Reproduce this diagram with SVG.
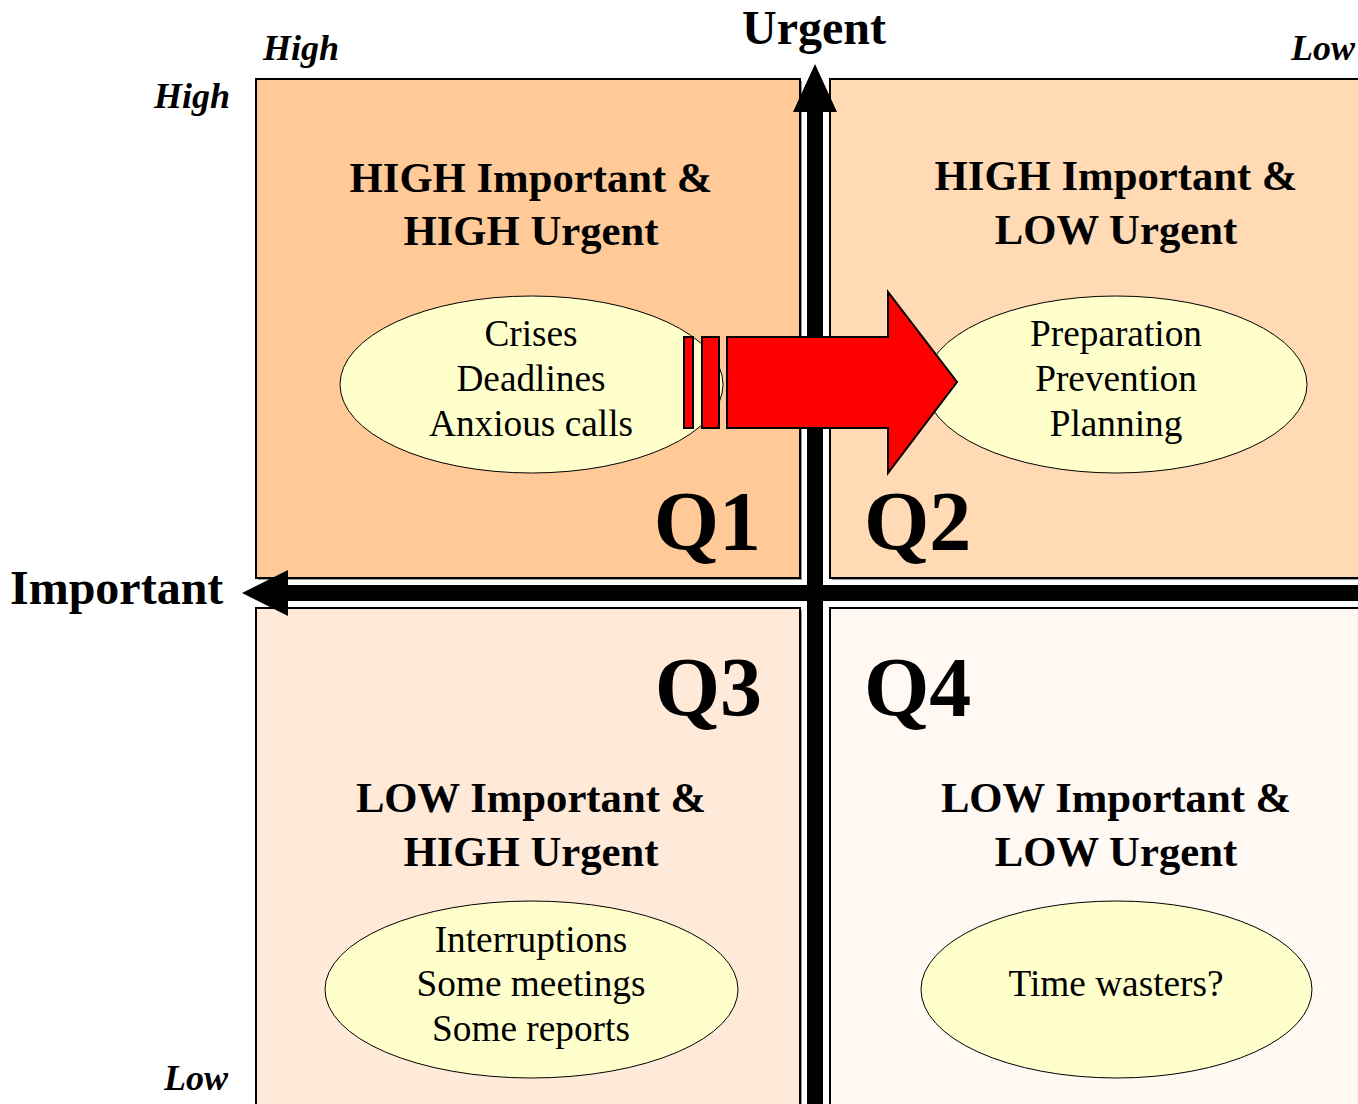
<svg xmlns="http://www.w3.org/2000/svg" width="1358" height="1104" viewBox="0 0 1358 1104">
<defs>
<style>
.box{stroke:#000;stroke-width:2}
.shadow{fill:#999}
.ell{fill:#FFFFCC;stroke:#000;stroke-width:1}
.t{font-family:"Liberation Serif","Times New Roman",serif;fill:#000}
.title{font-size:42.7px;font-weight:bold;text-anchor:middle}
.item{font-size:37.3px;text-anchor:middle}
.q{font-size:84px;font-weight:bold}
.ax{font-size:48px;font-weight:bold}
.lv{font-size:36px;font-weight:bold;font-style:italic}
</style>
</defs>
<rect width="1358" height="1104" fill="#fff"/>

<g id="q1">
<rect class="shadow" x="258" y="81" width="544" height="499"/>
<rect class="box" x="256" y="79" width="544" height="499" fill="#FFCA98"/>
<text class="t title" x="531" y="192">HIGH Important &amp;</text>
<text class="t title" x="531" y="245">HIGH Urgent</text>
<ellipse class="ell" cx="531.5" cy="384.5" rx="191.5" ry="88.5"/>
<text class="t item" x="531" y="346">Crises</text>
<text class="t item" x="531" y="391">Deadlines</text>
<text class="t item" x="531" y="436">Anxious calls</text>
<text class="t q" x="761" y="550" text-anchor="end">Q1</text>
</g>

<g id="q2">
<rect class="shadow" x="832" y="81" width="540" height="499"/>
<rect class="box" x="830" y="79" width="540" height="499" fill="#FFDAB5"/>
<text class="t title" x="1116" y="190">HIGH Important &amp;</text>
<text class="t title" x="1116" y="244">LOW Urgent</text>
<ellipse class="ell" cx="1116" cy="384.5" rx="191" ry="88.5"/>
<text class="t item" x="1116" y="346">Preparation</text>
<text class="t item" x="1116" y="391">Prevention</text>
<text class="t item" x="1116" y="436">Planning</text>
<text class="t q" x="864" y="550">Q2</text>
</g>

<g id="q3">
<rect class="shadow" x="258" y="610" width="544" height="510"/>
<rect class="box" x="256" y="608" width="544" height="510" fill="#FFE9D8"/>
<text class="t title" x="531" y="812">LOW Important &amp;</text>
<text class="t title" x="531" y="866">HIGH Urgent</text>
<ellipse class="ell" cx="531.5" cy="989.5" rx="206.5" ry="88.5"/>
<text class="t item" x="531" y="952">Interruptions</text>
<text class="t item" x="531" y="996">Some meetings</text>
<text class="t item" x="531" y="1041">Some reports</text>
<text class="t q" x="762" y="716" text-anchor="end">Q3</text>
</g>

<g id="q4">
<rect class="shadow" x="832" y="610" width="540" height="510"/>
<rect class="box" x="830" y="608" width="540" height="510" fill="#FFF8F3"/>
<text class="t title" x="1116" y="812">LOW Important &amp;</text>
<text class="t title" x="1116" y="866">LOW Urgent</text>
<ellipse class="ell" cx="1116.5" cy="989.5" rx="195.5" ry="88.5"/>
<text class="t item" x="1116" y="996">Time wasters?</text>
<text class="t q" x="864" y="716">Q4</text>
</g>

<g id="labels">
<text class="t ax" x="814" y="44" text-anchor="middle">Urgent</text>
<text class="t ax" x="10" y="604">Important</text>
<text class="t lv" x="263" y="60">High</text>
<text class="t lv" x="1355" y="60" text-anchor="end">Low</text>
<text class="t lv" x="230" y="108" text-anchor="end">High</text>
<text class="t lv" x="228" y="1090" text-anchor="end">Low</text>
</g>

<g id="connectors">
<rect x="807" y="108" width="16" height="996" fill="#000"/>
<polygon points="815,64 793,112 837,112" fill="#000"/>
<rect x="284" y="585" width="1074" height="16" fill="#000"/>
<polygon points="242,593 288,570 288,616" fill="#000"/>
<g fill="#FF0000" stroke="#000" stroke-width="2" stroke-linejoin="miter">
<rect x="684" y="337" width="9" height="91"/>
<rect x="702" y="337" width="17" height="91"/>
<polygon points="727,337 888,337 888,292 957,382 888,473 888,428 727,428"/>
</g>
</g>
</svg>
